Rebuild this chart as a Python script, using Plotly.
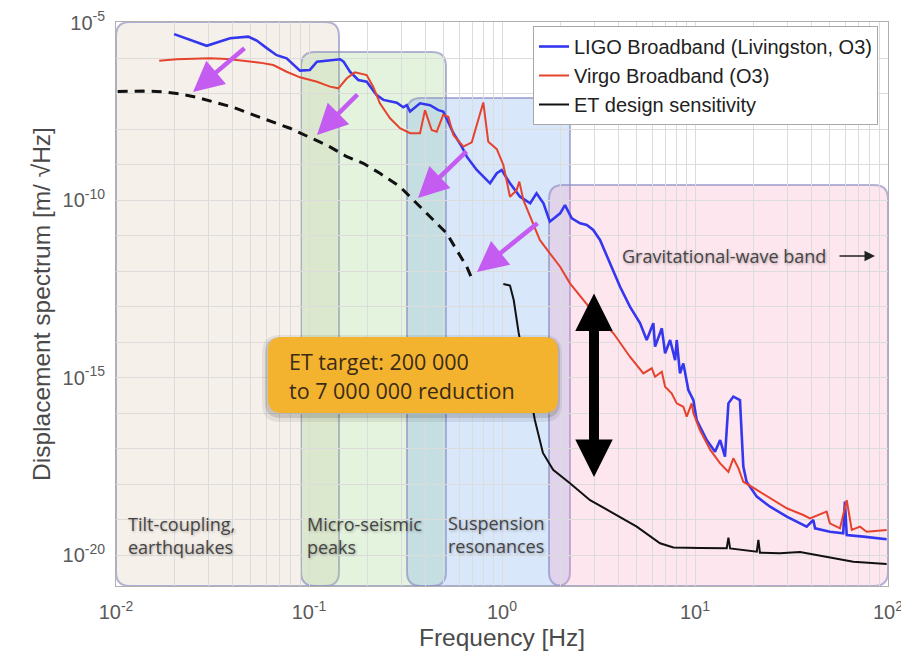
import plotly.graph_objects as go

# ---------------- data ----------------
ligo_f = [0.0200, 0.0295, 0.0346, 0.039, 0.0484, 0.0536, 0.0604, 0.068, 0.0766, 0.083, 0.0898,
          0.101, 0.110, 0.145, 0.151, 0.163, 0.180, 0.199, 0.224, 0.243, 0.285, 0.308, 0.321,
          0.334, 0.376, 0.424, 0.468, 0.496, 0.560, 0.619, 0.657, 0.740, 0.867, 0.940, 0.996,
          1.10, 1.24, 1.40, 1.51, 1.64, 1.77, 2.00, 2.12, 2.30, 2.54, 2.75, 2.97, 3.22, 3.63,
          4.09, 4.60, 5.19, 5.62, 6.08, 6.21, 6.73, 7.00, 7.43, 7.89, 8.04, 8.36, 8.70, 9.24,
          9.81, 10.2, 11.5, 12.7, 13.5, 14.3, 14.9, 15.8, 17.1, 17.8, 18.5, 20.9, 24.5, 29.9,
          37.9, 41.0, 41.9, 50.0, 58.6, 59.8, 61.1, 74.5, 98.4]
ligo_d = [4.7e-6, 2.2e-6, 2.9e-6, 3.6e-6, 4.0e-6, 3.1e-6, 1.9e-6, 1.2e-6, 9.8e-7, 6.35e-7, 4.4e-7,
          4.6e-7, 7.9e-7, 9.2e-7, 7.9e-7, 4.1e-7, 2.4e-7, 2.15e-7, 9.1e-8, 6.6e-8, 5.5e-8, 4.1e-8, 4.7e-8,
          3.1e-8, 5.3e-8, 4.7e-8, 3.4e-8, 3.1e-8, 7.6e-9, 3.2e-9, 1.66e-9, 7.0e-10, 2.95e-10, 5.65e-10, 7.0e-10,
          2.95e-10, 1.24e-10, 8.1e-11, 1.55e-10, 8.1e-11, 2.45e-11, 4.2e-11, 7.2e-11, 3.05e-11, 2.2e-11, 1.98e-11, 1.43e-11, 7.5e-12, 1.65e-12,
          3.6e-13, 9.9e-14, 3.4e-14, 1.14e-14, 3.4e-14, 7.4e-15, 2.43e-14, 4.8e-15, 1.14e-14, 3.1e-15, 1.14e-14, 1.31e-15, 2.5e-15, 4.45e-16,
          2.3e-16, 6.35e-17, 1.73e-17, 8.1e-18, 1.73e-17, 5.9e-18, 1.87e-16, 2.9e-16, 2.3e-16, 3.1e-18, 1.16e-18, 4.4e-19, 2.3e-19, 1.2e-19,
          6.3e-20, 9.7e-20, 5.65e-20, 4.5e-20, 4.1e-20, 3.2e-19, 3.65e-20, 3.3e-20, 2.77e-20]

virgo_f = [0.01675, 0.0206, 0.0307, 0.0375, 0.0457, 0.0557, 0.0653, 0.0766, 0.0898, 0.110, 0.1285,
           0.142, 0.157, 0.173, 0.199, 0.215, 0.233, 0.263, 0.296, 0.334, 0.376, 0.399, 0.432, 0.459,
           0.496, 0.527, 0.560, 0.631, 0.697, 0.741, 0.80, 0.849, 0.94, 1.016, 1.10, 1.19, 1.23, 1.29,
           1.45, 1.57, 1.77, 2.00, 2.25, 2.64, 3.10, 3.78, 4.60, 5.40, 5.97, 6.21, 6.73, 7.00, 7.57,
           8.04, 8.70, 9.06, 9.61, 9.81, 10.6, 12.0, 13.5, 14.9, 15.8, 16.8, 17.8, 20.9, 24.5, 29.9,
           36.4, 39.4, 48.1, 50.0, 56.4, 61.1, 64.9, 71.6, 77.5, 98.4]
virgo_d = [8.4e-7, 9.2e-7, 9.8e-7, 9.4e-7, 8.4e-7, 7.4e-7, 6.35e-7, 4.1e-7, 2.86e-7, 2.15e-7, 1.56e-7,
           1.40e-7, 2.68e-7, 3.95e-7, 3.3e-7, 1.56e-7, 5.3e-8, 2.0e-8, 1.05e-8, 7.6e-9, 7.6e-9, 3.4e-8, 9.4e-9, 8.4e-9,
           2.5e-8, 2.2e-8, 6.8e-9, 3.2e-9, 4.2e-9, 1.3e-8, 5.6e-8, 4.4e-9, 2.7e-9, 9.7e-10, 1.24e-10, 1.9e-10, 3.3e-10, 1.0e-10,
           2.2e-11, 7.5e-12, 3.15e-12, 1.32e-12, 4.5e-13, 1.52e-13, 5.2e-14, 1.76e-14, 3.85e-15, 1.31e-15, 1.82e-15, 1.05e-15, 1.46e-15, 5.5e-16, 3.6e-16,
           1.87e-16, 1.5e-16, 7.9e-17, 1.87e-16, 9.8e-17, 3.3e-17, 9.1e-18, 3.8e-18, 2.2e-18, 5.3e-18, 2.77e-18, 1.16e-18, 6.8e-19, 3.95e-19, 2.07e-19,
           1.34e-19, 1.08e-19, 1.66e-19, 7.8e-20, 5.65e-20, 3.5e-19, 5.1e-20, 6.3e-20, 4.5e-20, 5.1e-20]

et_f = [1.016, 1.10, 1.15, 1.22, 1.35, 1.48, 1.63, 1.84, 2.25, 2.86, 3.78, 4.99, 6.59, 7.73, 10.6,
        14.6, 14.9, 15.2, 20.9, 21.3, 21.7, 27.5, 35.0, 48.1, 66.1, 98.4]
et_d = [4.3e-13, 3.9e-13, 1.52e-13, 1.8e-14, 9.7e-16, 6.35e-17, 7.5e-18, 2.5e-18, 1.05e-18, 3.5e-19, 1.5e-19,
        6.3e-20, 2.14e-20, 1.64e-20, 1.57e-20, 1.55e-20, 3.07e-20, 1.53e-20, 1.24e-20, 2.65e-20, 1.16e-20,
        1.12e-20, 1.22e-20, 8.95e-21, 6.5e-21, 5.6e-21]

et_low_f = [0.0102, 0.0138, 0.0176, 0.0215, 0.0262, 0.0319, 0.0405, 0.0514, 0.0653, 0.0797, 0.101,
            0.124, 0.157, 0.191, 0.233, 0.296, 0.347, 0.424, 0.517, 0.582, 0.657, 0.697]
et_low_d = [1.14e-7, 1.17e-7, 1.12e-7, 9.7e-8, 7.8e-8, 5.9e-8, 4.1e-8, 2.5e-8, 1.6e-8, 1.05e-8, 5.8e-9,
            3.5e-9, 1.66e-9, 1.08e-9, 5.65e-10, 2.37e-10, 1.0e-10, 3.4e-11, 1.15e-11, 3.9e-12, 1.32e-12, 6.2e-13]

series_names = ["LIGO Broadband (Livingston, O3)", "Virgo Broadband (O3)", "ET design sensitivity"]

x_label_decades = [-2, -1, 0, 1, 2]
y_label_decades = [-5, -10, -15, -20]
region_labels = ["Tilt-coupling,<br>earthquakes", "Micro-seismic<br>peaks",
                 "Suspension<br>resonances", "Gravitational-wave band"]
target_lines = ["ET target: 200 000", "to 7 000 000 reduction"]

# ---------------- geometry helpers (page pixels of the plot area) ----------------
PAGE_OFF = 8          # default body margin of the html page
FIG_W, FIG_H = 909 - PAGE_OFF, 658 - PAGE_OFF
L, R, T, B = 116, 888, 22, 586
W, H = R - L, B - T


def px(x):
    return (x - L) / W


def py(y):
    return (B - y) / H


def rrect(x0, y0, x1, y1, r):
    a0, a1 = px(x0), px(x1)
    b0, b1 = py(y1), py(y0)
    rx, ry = r / W, r / H
    return (f"M {a0+rx},{b0} L {a1-rx},{b0} Q {a1},{b0} {a1},{b0+ry} "
            f"L {a1},{b1-ry} Q {a1},{b1} {a1-rx},{b1} L {a0+rx},{b1} "
            f"Q {a0},{b1} {a0},{b1-ry} L {a0},{b0+ry} Q {a0},{b0} {a0+rx},{b0} Z")


fig = go.Figure()
fig.add_trace(go.Scatter(x=ligo_f, y=ligo_d, mode="lines", name=series_names[0],
                         line=dict(color="#3437ee", width=2.6)))
fig.add_trace(go.Scatter(x=virgo_f, y=virgo_d, mode="lines", name=series_names[1],
                         line=dict(color="#e5432d", width=2)))
fig.add_trace(go.Scatter(x=et_f, y=et_d, mode="lines", name=series_names[2],
                         line=dict(color="#111111", width=2)))
fig.add_trace(go.Scatter(x=et_low_f, y=et_low_d, mode="lines", showlegend=False,
                         line=dict(color="#111111", width=3, dash="10px,7px")))

border = dict(color="rgba(140,140,195,0.65)", width=2)
shapes = [
    dict(type="path", path=rrect(116, 22, 339, 586, 14), xref="paper", yref="paper",
         fillcolor="rgba(222,200,180,0.28)", line=border, layer="below"),
    dict(type="path", path=rrect(301, 52, 446, 586, 14), xref="paper", yref="paper",
         fillcolor="rgba(150,210,130,0.27)", line=border, layer="below"),
    dict(type="path", path=rrect(407, 98, 570, 586, 14), xref="paper", yref="paper",
         fillcolor="rgba(120,170,240,0.28)", line=border, layer="below"),
    dict(type="path", path=rrect(549, 185, 888, 586, 14), xref="paper", yref="paper",
         fillcolor="rgba(245,150,185,0.24)", line=border, layer="below"),
    # shadow + orange box
    dict(type="path", path=rrect(262, 335, 562, 422, 18), xref="paper", yref="paper",
         fillcolor="rgba(0,0,0,0.07)", line=dict(width=0), layer="above"),
    dict(type="path", path=rrect(265, 337, 560, 418, 16), xref="paper", yref="paper",
         fillcolor="rgba(0,0,0,0.12)", line=dict(width=0), layer="above"),
    dict(type="path", path=rrect(268, 337, 558, 413, 14), xref="paper", yref="paper",
         fillcolor="#f3b32f", line=dict(width=0), layer="above"),
]

lab_font = dict(family="Open Sans", size=18, color="#454545",
                shadow="1px 1px 3px rgba(0,0,0,0.3)")
annotations = [
    dict(text=region_labels[0], x=px(126), y=py(535), xref="paper", yref="paper",
         xanchor="left", yanchor="middle", align="left", showarrow=False, font=lab_font),
    dict(text=region_labels[1], x=px(305), y=py(535), xref="paper", yref="paper",
         xanchor="left", yanchor="middle", align="left", showarrow=False, font=lab_font),
    dict(text=region_labels[2], x=px(446), y=py(534), xref="paper", yref="paper",
         xanchor="left", yanchor="middle", align="left", showarrow=False, font=lab_font),
    dict(text=region_labels[3], x=px(620), y=py(256), xref="paper", yref="paper",
         xanchor="left", yanchor="middle", align="left", showarrow=False, font=lab_font),
    # small arrow after GW band label
    dict(x=px(875), y=py(256), ax=-37, ay=0, xref="paper", yref="paper", axref="pixel", ayref="pixel",
         text="", showarrow=True, arrowhead=2, arrowsize=1.4, arrowwidth=1.5, arrowcolor="#222"),
    # target text
    dict(text=target_lines[0], x=px(287), y=py(361), xref="paper", yref="paper",
         xanchor="left", yanchor="middle", showarrow=False,
         font=dict(family="Open Sans", size=21.5, color="#3a2b16")),
    dict(text=target_lines[1], x=px(287), y=py(390), xref="paper", yref="paper",
         xanchor="left", yanchor="middle", showarrow=False,
         font=dict(family="Open Sans", size=21.5, color="#3a2b16")),
    # black double arrow
    dict(x=px(594), y=py(477), ax=0, ay=-185, xref="paper", yref="paper", axref="pixel", ayref="pixel",
         text="", showarrow=True, arrowside="end+start", arrowhead=2, startarrowhead=2,
         arrowsize=0.75, startarrowsize=0.75, arrowwidth=10, arrowcolor="#000"),
]
violet = "#c55cf2"
for tip, off in [((193, 92), (53, -45)), ((317, 135), (42, -42)),
                 ((418, 198), (50, -48)), ((477, 272), (62, -50))]:
    annotations.append(dict(x=px(tip[0]), y=py(tip[1]), ax=off[0], ay=off[1], xref="paper", yref="paper",
                            axref="pixel", ayref="pixel", text="", showarrow=True, arrowhead=2,
                            arrowsize=1.35, arrowwidth=4.5, arrowcolor=violet))

x_tickvals, x_ticktext = [], []
for k in x_label_decades:
    for m in range(1, 10):
        if k == 2 and m > 1:
            break
        x_tickvals.append(m * 10.0 ** k)
        x_ticktext.append(f"10<sup>{k}</sup>" if m == 1 else "")
y_tickvals, y_ticktext = [], []
for k in range(-20, -4):
    y_tickvals.append(10.0 ** k)
    y_ticktext.append(f"10<sup>{k}</sup>" if k in y_label_decades else "")

tick_font = dict(family="Liberation Sans", size=20, color="#5a5a5a")
title_font = dict(family="Liberation Sans", size=24.5, color="#4a4a4a")

fig.update_layout(
    width=FIG_W, height=FIG_H,
    margin=dict(l=L - PAGE_OFF, r=909 - R, t=T - PAGE_OFF, b=658 - B, autoexpand=False),
    paper_bgcolor="white", plot_bgcolor="white",
    shapes=shapes, annotations=annotations,
    legend=dict(x=px(533), y=py(26), xanchor="left", yanchor="top",
                bgcolor="white", bordercolor="#a8a8a8", borderwidth=1,
                font=dict(family="Liberation Sans", size=20, color="#222"),
                tracegroupgap=0, itemwidth=30),
    xaxis=dict(type="log", range=[-2, 2], tickmode="array", tickvals=x_tickvals, ticktext=x_ticktext,
               showgrid=True, gridcolor="#dcdcdc", gridwidth=1, zeroline=False,
               showline=True, linecolor="#b0b0b0", mirror=True, ticks="",
               tickfont=tick_font, ticklabelstandoff=8,
               title=dict(text="Frequency [Hz]", font=title_font, standoff=6)),
    yaxis=dict(type="log", range=[-20.873, -4.986], tickmode="array", tickvals=y_tickvals, ticktext=y_ticktext,
               showgrid=True, gridcolor="#dcdcdc", gridwidth=1, zeroline=False,
               showline=True, linecolor="#b0b0b0", mirror=True, ticks="",
               tickfont=tick_font, ticklabelstandoff=6,
               title=dict(text="Displacement spectrum [m/ \u221aHz]", font=title_font, standoff=4)),
    showlegend=True,
)

fig.write_html("out.html")
